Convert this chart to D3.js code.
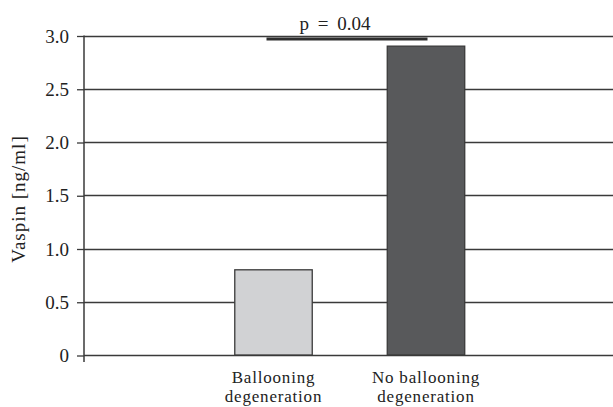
<!DOCTYPE html>
<html>
<head>
<meta charset="utf-8">
<script src="https://cdn.jsdelivr.net/npm/d3@7"></script>
<style>
  html, body { margin: 0; padding: 0; background: #fff; }
  svg { display: block; }
  text { font-family: "Liberation Serif", "Times New Roman", serif; fill: #222; }
</style>
</head>
<body>
<svg id="chart" width="613" height="407"></svg>
<script>
// Vaspin serum concentration by histological ballooning status
const categories = ["Ballooning\ndegeneration", "No ballooning\ndegeneration"];
const vaspin = [0.8, 2.9];
const yTicks = [0, 0.5, 1.0, 1.5, 2.0, 2.5, 3.0];
const yTickLabels = ["0", "0.5", "1.0", "1.5", "2.0", "2.5", "3.0"];
const barFills = ["#d1d2d4", "#58595b"];
const pLabel = "p = 0.04";
const yLabel = "Vaspin [ng/ml]";

const svg = d3.select("#chart");
const W = 613, H = 407;
const axisX = 84;
const y = d3.scaleLinear().domain([0, 3]).range([355, 35.5]);
const x = d3.scaleBand().domain(categories).range([159.75, 539.75]).padding(0.492);

// horizontal gridlines spanning to the right edge
svg.append("g")
  .selectAll("line")
  .data(yTicks)
  .join("line")
  .attr("x1", axisX).attr("x2", W)
  .attr("y1", d => Math.round(y(d)) + 0.5)
  .attr("y2", d => Math.round(y(d)) + 0.5)
  .attr("stroke", "#3a3a3a")
  .attr("stroke-width", 1.3);

// left axis with outward ticks
const yAxis = d3.axisLeft(y)
  .tickValues(yTicks)
  .tickFormat((d, i) => yTickLabels[i])
  .tickSize(7)
  .tickPadding(8);
const gAxis = svg.append("g").attr("transform", `translate(${axisX},0.5)`).call(yAxis);
gAxis.select(".domain").remove();
gAxis.selectAll(".tick line").attr("stroke", "#3a3a3a").attr("stroke-width", 1.3);
gAxis.selectAll(".tick text")
  .attr("fill", "#222")
  .style("font-family", '"Liberation Serif", serif')
  .style("font-size", "19px");

// vertical axis line, extending slightly below zero
svg.append("line")
  .attr("x1", axisX).attr("x2", axisX)
  .attr("y1", y(3)).attr("y2", y(0) + 7)
  .attr("stroke", "#3a3a3a").attr("stroke-width", 1.5);

// bars
svg.append("g")
  .selectAll("rect")
  .data(categories)
  .join("rect")
  .attr("x", d => x(d))
  .attr("width", x.bandwidth())
  .attr("y", (d, i) => y(vaspin[i]))
  .attr("height", (d, i) => y(0) - y(vaspin[i]))
  .attr("fill", (d, i) => barFills[i])
  .attr("stroke", "#3a3a3a")
  .attr("stroke-width", 1.3);

// category labels, one text element per line
const xl = svg.append("g");
categories.forEach(c => {
  c.split("\n").forEach((line, k) => {
    xl.append("text")
      .attr("x", x(c) + x.bandwidth() / 2)
      .attr("y", 383 + k * 19)
      .attr("text-anchor", "middle")
      .style("font-size", "17px")
      .style("letter-spacing", "0.8px")
      .text(line);
  });
});

// y-axis title
svg.append("text")
  .attr("transform", "translate(25,199) rotate(-90)")
  .attr("text-anchor", "middle")
  .style("font-size", "19px")
  .style("letter-spacing", "1px")
  .text(yLabel);

// significance bracket between the two groups
const sx1 = 266.5, sx2 = 427.5;
svg.append("line")
  .attr("x1", sx1).attr("x2", sx2)
  .attr("y1", 39).attr("y2", 39)
  .attr("stroke", "#2e2e2e").attr("stroke-width", 3.2);
svg.append("text")
  .attr("x", 335)
  .attr("y", 29.5)
  .attr("text-anchor", "middle")
  .style("font-size", "19px")
  .style("word-spacing", "4px")
  .text(pLabel);
</script>
</body>
</html>
